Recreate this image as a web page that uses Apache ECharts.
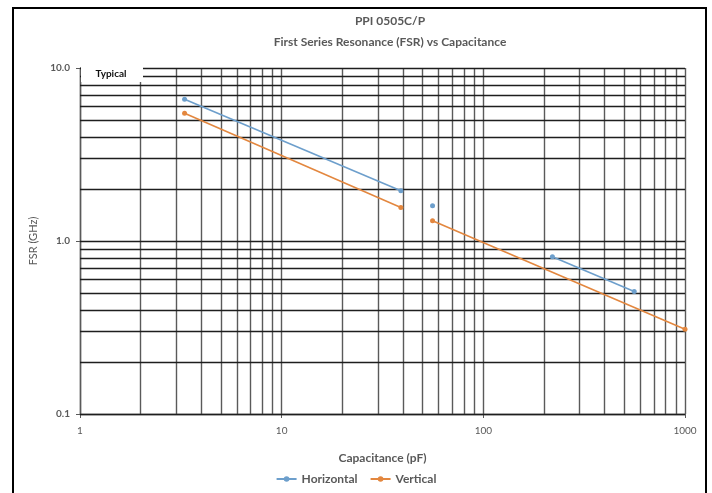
<!DOCTYPE html>
<html><head><meta charset="utf-8">
<script src="https://cdn.jsdelivr.net/npm/echarts@6/dist/echarts.min.js"></script>
<style>html,body{margin:0;padding:0;background:#fff}#c{width:712px;height:493px}</style>
</head><body><div id="c"></div>
<script>
// Data
const seriesNames = ['Horizontal', 'Vertical'];
const horizontalCap = [3.3, 39, 56, 220, 560];
const horizontalFsr = [6.6, 1.95, 1.60, 0.81, 0.51];
const horizontalSegments = [[0, 1], [2], [3, 4]];
const verticalCap = [3.3, 39, 56, 1000];
const verticalFsr = [5.47, 1.56, 1.31, 0.309];
const verticalSegments = [[0, 1], [2, 3]];
const xGridValues = [1,2,3,4,5,6,7,8,9,10,20,30,40,50,60,70,80,90,100,200,300,400,500,600,700,800,900,1000];
const yGridValues = [0.1,0.2,0.3,0.4,0.5,0.6,0.7,0.8,0.9,1,2,3,4,5,6,7,8,9,10];
const xTickLabels = [1, 10, 100, 1000];
const yTickLabels = ['0.1', '1.0', '10.0'];

const colors = {Horizontal: '#6d9fcc', Vertical: '#e3873f'};
const font = "Lato, 'Open Sans', sans-serif";

function buildSeries(name, cap, fsr, segs) {
  return segs.map(idx => ({
    name: name,
    type: 'line',
    z: 5,
    data: idx.map(i => [cap[i], fsr[i]]),
    symbol: 'circle',
    symbolSize: 5,
    showSymbol: true,
    itemStyle: {color: colors[name]},
    lineStyle: {color: colors[name], width: 1.6},
    emphasis: {disabled: true}
  }));
}

const gridSeries = {
  type: 'line',
  z: 1,
  data: [[1, 1]],
  showSymbol: false,
  symbol: 'none',
  lineStyle: {opacity: 0},
  silent: true,
  markLine: {
    silent: true,
    symbol: 'none',
    animation: false,
    label: {show: false},
    data: [
      ...xGridValues.map(v => ({xAxis: v, lineStyle: {color: '#5a5a5a', width: 1.4, type: 'solid'}})),
      ...yGridValues.map(v => ({yAxis: v, lineStyle: {color: '#1e1e1e', width: 1.4, type: 'solid'}}))
    ]
  }
};

const chart = echarts.init(document.getElementById('c'));
chart.setOption({
  animation: false,
  backgroundColor: '#fff',
  title: [
    {text: 'PPI 0505C/P', left: 385, top: 10, textAlign: 'center',
     textStyle: {fontFamily: font, fontSize: 12, fontWeight: 'bold', color: '#595959'}},
    {text: 'First Series Resonance (FSR) vs Capacitance', left: 385, top: 31, textAlign: 'center',
     textStyle: {fontFamily: font, fontSize: 12, fontWeight: 'bold', color: '#595959'}}
  ],
  legend: {
    data: seriesNames,
    top: 468,
    left: 'center',
    itemWidth: 20,
    itemHeight: 7,
    itemGap: 12,
    textStyle: {fontFamily: font, fontSize: 12, fontWeight: 'bold', color: '#595959'}
  },
  grid: {left: 80, right: 27, top: 68, bottom: 79},
  xAxis: {
    type: 'log',
    logBase: 10,
    min: 1,
    max: 1000,
    name: 'Capacitance (pF)',
    nameLocation: 'middle',
    nameGap: 38,
    nameTextStyle: {fontFamily: font, fontSize: 12, fontWeight: 'bold', color: '#595959'},
    axisLine: {show: true, lineStyle: {color: '#5a5a5a', width: 1.4}},
    axisTick: {show: true, length: 4, lineStyle: {color: '#5a5a5a'}},
    splitLine: {show: false},
    axisLabel: {fontFamily: font, fontSize: 10, color: '#595959', margin: 12,
      formatter: v => xTickLabels.includes(Math.round(v)) ? String(Math.round(v)) : ''}
  },
  yAxis: {
    type: 'log',
    logBase: 10,
    min: 0.1,
    max: 10,
    name: 'FSR (GHz)',
    nameLocation: 'middle',
    nameGap: 40,
    nameTextStyle: {fontFamily: font, fontSize: 11, color: '#595959'},
    axisLine: {show: true, lineStyle: {color: '#5a5a5a', width: 1.4}},
    axisTick: {show: true, length: 4, lineStyle: {color: '#5a5a5a'}},
    splitLine: {show: false},
    axisLabel: {fontFamily: font, fontSize: 10, fontWeight: 'bold', color: '#595959', margin: 10,
      formatter: v => {
        const s = Number(v).toFixed(1);
        return yTickLabels.includes(s) ? s : '';
      }}
  },
  graphic: [
    {type: 'rect', z: 100, shape: {x: 81, y: 60, width: 62, height: 22}, style: {fill: '#fff'}},
    {type: 'text', z: 101, x: 111, y: 74, style: {text: 'Typical', fontFamily: font, fontSize: 10, fontWeight: 'bold', fill: '#111', align: 'center', verticalAlign: 'middle'}},
    {type: 'rect', z: 100, shape: {x: 13, y: 8, width: 693, height: 495}, style: {fill: 'none', stroke: '#000', lineWidth: 2}}
  ],
  series: [
    gridSeries,
    ...buildSeries('Horizontal', horizontalCap, horizontalFsr, horizontalSegments),
    ...buildSeries('Vertical', verticalCap, verticalFsr, verticalSegments)
  ]
});
</script></body></html>
